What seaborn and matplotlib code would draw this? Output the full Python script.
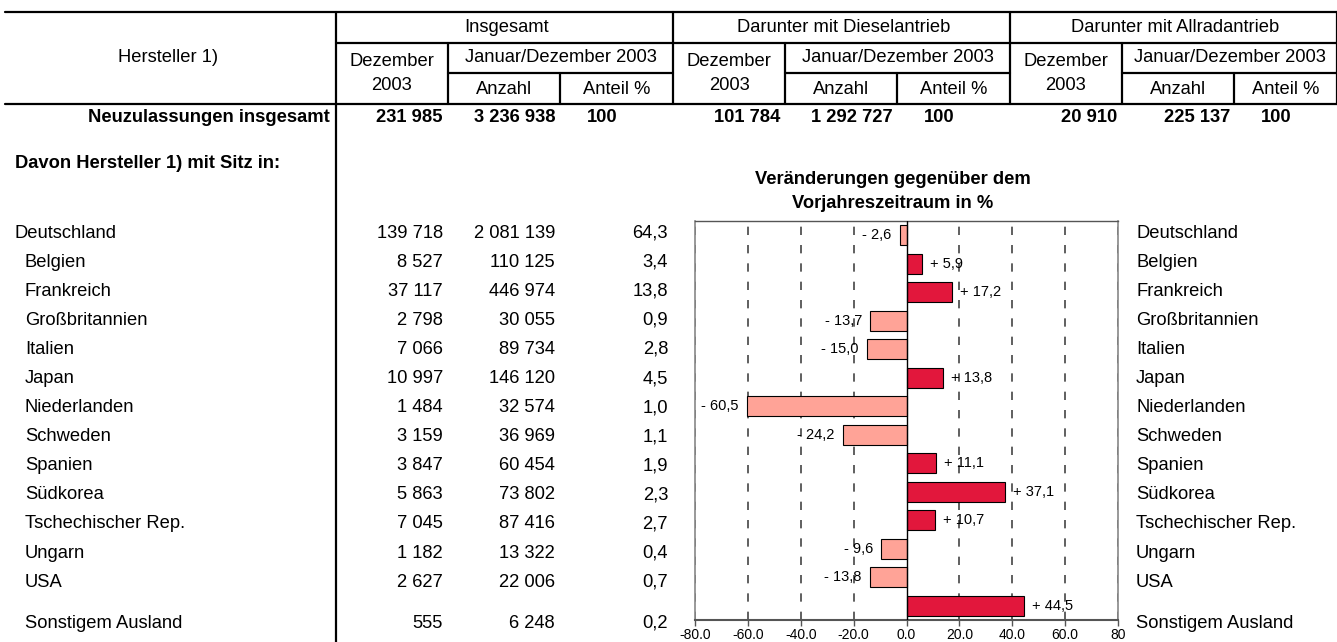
import matplotlib
matplotlib.use('Agg')
import matplotlib.pyplot as plt
import seaborn as sns
import pandas as pd

# data
countries = ['Deutschland', 'Belgien', 'Frankreich', 'Großbritannien', 'Italien', 'Japan',
             'Niederlanden', 'Schweden', 'Spanien', 'Südkorea', 'Tschechischer Rep.',
             'Ungarn', 'USA', 'Sonstigem Ausland']
dezember = [139718, 8527, 37117, 2798, 7066, 10997, 1484, 3159, 3847, 5863, 7045, 1182, 2627, 555]
anzahl = [2081139, 110125, 446974, 30055, 89734, 146120, 32574, 36969, 60454, 73802, 87416,
          13322, 22006, 6248]
anteil = [64.3, 3.4, 13.8, 0.9, 2.8, 4.5, 1.0, 1.1, 1.9, 2.3, 2.7, 0.4, 0.7, 0.2]
change = [-2.6, 5.9, 17.2, -13.7, -15.0, 13.8, -60.5, -24.2, 11.1, 37.1, 10.7, -9.6, -13.8, 44.5]

group_titles = ['Insgesamt', 'Darunter mit Dieselantrieb', 'Darunter mit Allradantrieb']
total_dez = [231985, 101784, 20910]
total_anzahl = [3236938, 1292727, 225137]
total_anteil = [100, 100, 100]

xtick_values = [-80, -60, -40, -20, 0, 20, 40, 60, 80]
xtick_labels = ['-80.0', '-60.0', '-40.0', '-20.0', '0.0', '20.0', '40.0', '60.0', '80']


def fmt_int(n):
    return f'{n:,}'.replace(',', ' ')


def fmt_dec(v):
    return f'{v:.1f}'.replace('.', ',')


def fmt_change(v):
    return ('+ ' if v > 0 else '- ') + fmt_dec(abs(v))


sns.set_style('white')
plt.rcParams['font.family'] = ['Liberation Sans', 'DejaVu Sans']
plt.rcParams['text.color'] = 'black'
plt.rcParams['xtick.color'] = 'black'
plt.rcParams['xtick.labelcolor'] = 'black'

fig = plt.figure(figsize=(13.37, 6.42), dpi=100)

# background axes in pixel units for the table part
bg = fig.add_axes([0, 0, 1, 1])
bg.set_xlim(0, 1337)
bg.set_ylim(642, 0)
bg.axis('off')

fs = 13.2
lw = 1.6

# header grid
bg.plot([5, 1337], [12, 12], color='black', lw=lw)
bg.plot([5, 1337], [104, 104], color='black', lw=lw)
bg.plot([336, 1337], [43, 43], color='black', lw=lw)
bg.plot([336, 336], [12, 642], color='black', lw=lw)

group_left = [336, 673, 1010]
group_right = [673, 1010, 1337]
for g in range(3):
    x0, x1 = group_left[g], group_right[g]
    xd = x0 + 112          # end of "Dezember" column
    xa = xd + 112          # end of "Anzahl" column
    bg.plot([x1, x1], [12, 104], color='black', lw=lw)
    bg.plot([xd, xd], [43, 104], color='black', lw=lw)
    bg.plot([xa, xa], [73, 104], color='black', lw=lw)
    bg.plot([xd, x1], [73, 73], color='black', lw=lw)

    bg.text((x0 + x1) / 2 + 2, 28, group_titles[g], ha='center', va='center', fontsize=fs)
    bg.text((x0 + xd) / 2, 62, 'Dezember', ha='center', va='center', fontsize=fs)
    bg.text((x0 + xd) / 2, 86, '2003', ha='center', va='center', fontsize=fs)
    bg.text((xd + x1) / 2, 58, 'Januar/Dezember 2003', ha='center', va='center', fontsize=fs)
    bg.text((xd + xa) / 2, 89, 'Anzahl', ha='center', va='center', fontsize=fs)
    bg.text((xa + x1) / 2, 89, 'Anteil %', ha='center', va='center', fontsize=fs)

    # totals row
    bg.text(xd - 5, 118, fmt_int(total_dez[g]), ha='right', va='center', fontsize=fs, weight='bold')
    bg.text(xa - 4, 118, fmt_int(total_anzahl[g]), ha='right', va='center', fontsize=fs, weight='bold')
    bg.text(xa + 27, 118, str(total_anteil[g]), ha='left', va='center', fontsize=fs, weight='bold')

bg.text(168, 58, 'Hersteller 1)', ha='center', va='center', fontsize=fs)
bg.text(330, 118, 'Neuzulassungen insgesamt', ha='right', va='center', fontsize=fs, weight='bold')
bg.text(15, 163, 'Davon Hersteller 1) mit Sitz in:', ha='left', va='center', fontsize=fs, weight='bold')
bg.text(893, 180, 'Veränderungen gegenüber dem', ha='center', va='center', fontsize=fs, weight='bold')
bg.text(893, 204, 'Vorjahreszeitraum in %', ha='center', va='center', fontsize=fs, weight='bold')

# country rows
for i, land in enumerate(countries):
    y = 233 + 29.1 * i if i < len(countries) - 1 else 623
    x_name = 15 if i == 0 else 25
    bg.text(x_name, y, land, ha='left', va='center', fontsize=fs)
    bg.text(443, y, fmt_int(dezember[i]), ha='right', va='center', fontsize=fs)
    bg.text(555, y, fmt_int(anzahl[i]), ha='right', va='center', fontsize=fs)
    bg.text(668, y, fmt_dec(anteil[i]), ha='right', va='center', fontsize=fs)
    bg.text(1136, y, land, ha='left', va='center', fontsize=fs)

# bar chart of changes
ax = fig.add_axes([695 / 1337, (642 - 620) / 642, 423 / 1337, 399 / 642])
df = pd.DataFrame({'land': countries, 'change': change,
                   'sign': ['pos' if v > 0 else 'neg' for v in change]})
sns.barplot(data=df, x='change', y='land', hue='sign', orient='h', dodge=False,
            palette={'pos': '#E2173C', 'neg': '#FFA397'}, saturation=1, width=0.7,
            edgecolor='black', linewidth=0.8, legend=False, ax=ax, zorder=3)

for g in xtick_values:
    if g != 0:
        ax.axvline(g, color='#444444', lw=1.2, ls=(0, (5, 6)), zorder=1)
ax.axvline(0, color='black', lw=1.0, zorder=4)

for i, v in enumerate(change):
    ax.annotate(fmt_change(v), (v, i), xytext=(6 if v > 0 else -6, 0),
                textcoords='offset points', ha='left' if v > 0 else 'right',
                va='center', fontsize=10.5, zorder=5)

ax.set_xlim(-80, 80)
ax.set_ylim(len(countries) - 0.5, -0.5)
ax.set_xticks(xtick_values)
ax.set_xticklabels(xtick_labels)
ax.set_yticks([])
ax.set_xlabel('')
ax.set_ylabel('')
ax.tick_params(axis='x', length=4, width=1, color='#555555', labelsize=10, pad=2, bottom=True)
ax.patch.set_alpha(0)
for side in ['left', 'right']:
    ax.spines[side].set_color('#888888')
    ax.spines[side].set_linewidth(1.2)
ax.spines['top'].set_color('#555555')
ax.spines['top'].set_linewidth(1.0)
ax.spines['bottom'].set_color('#555555')
ax.spines['bottom'].set_linewidth(1.5)

fig.savefig('out.png', dpi=100)
